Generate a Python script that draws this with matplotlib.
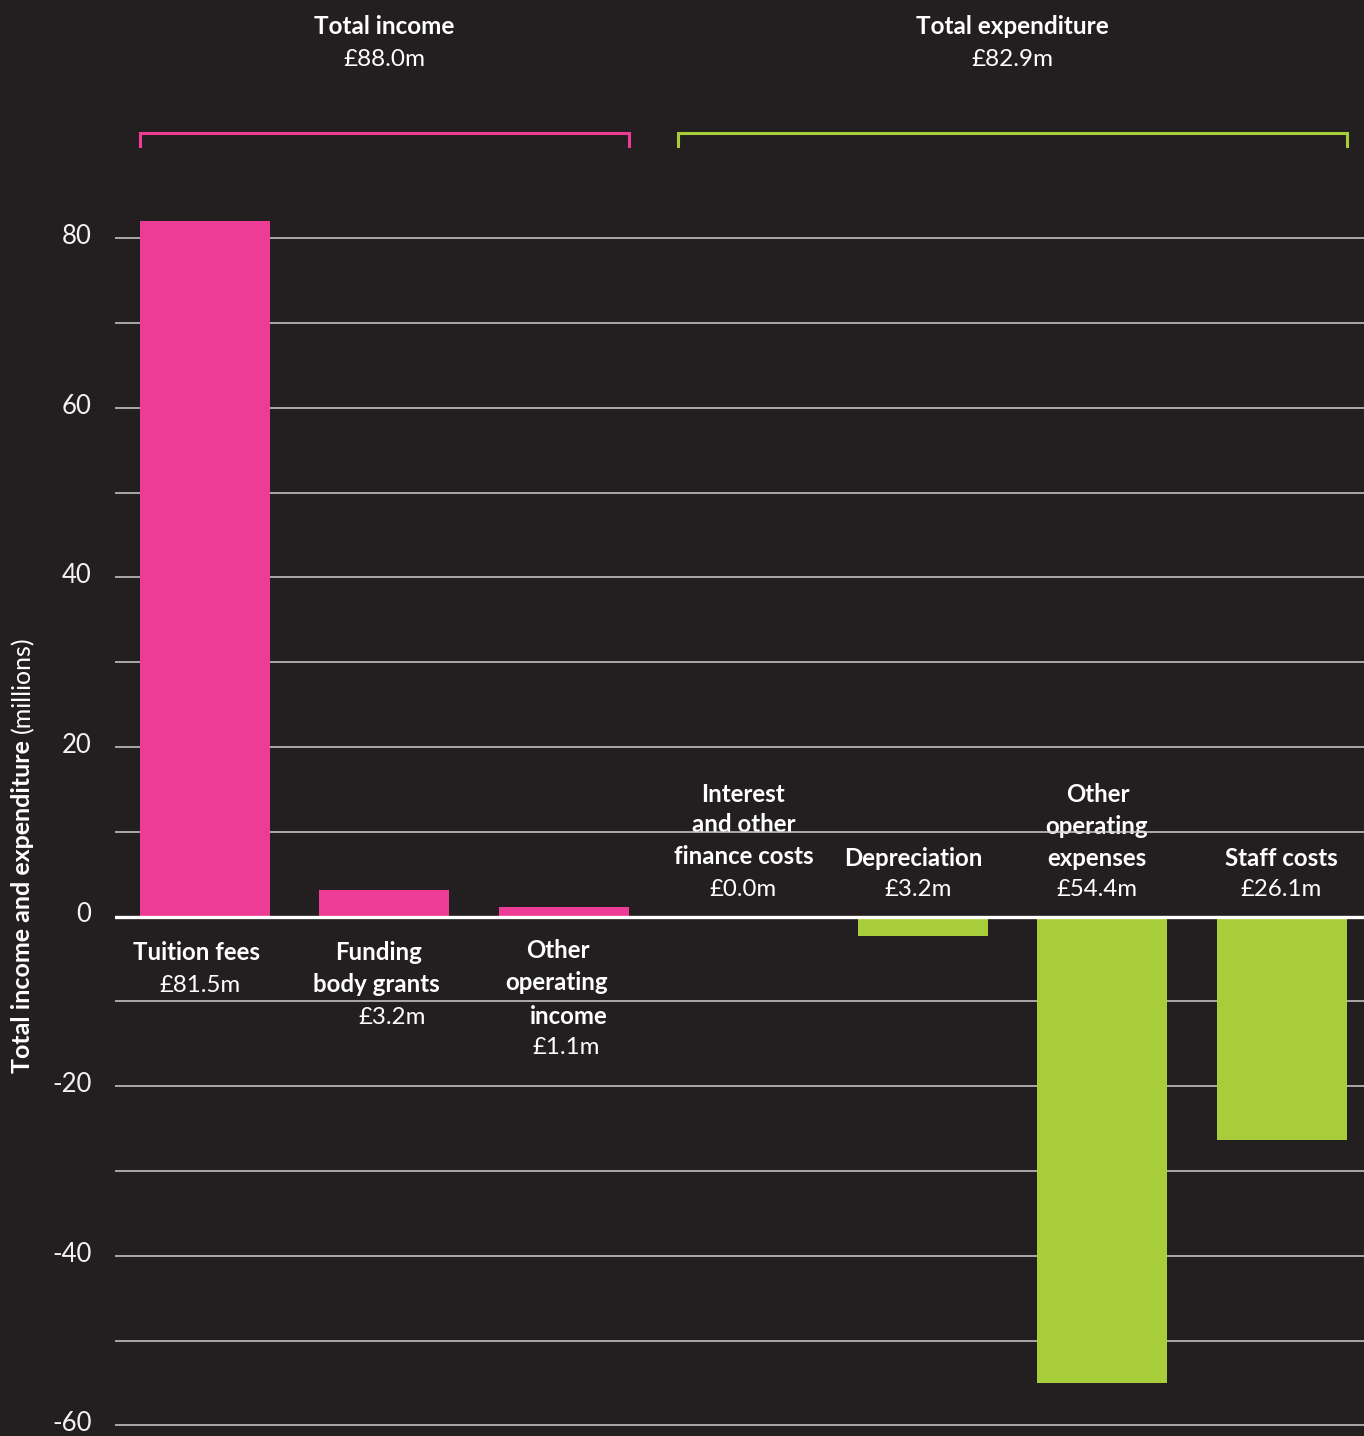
import matplotlib
matplotlib.use("Agg")
import matplotlib.pyplot as plt
from matplotlib.transforms import blended_transform_factory, offset_copy, ScaledTranslation

# ---------------- data ----------------
categories = [
    "Tuition fees",
    "Funding body grants",
    "Other operating income",
    "Interest and other finance costs",
    "Depreciation",
    "Other operating expenses",
    "Staff costs",
]
bar_values = [82.0, 3.1, 1.1, 0.0, -2.3, -55.0, -26.3]
amount_labels = ["£81.5m", "£3.2m", "£1.1m", "£0.0m", "£3.2m", "£54.4m", "£26.1m"]
group_of = [0, 0, 0, 1, 1, 1, 1]
group_titles = ["Total income", "Total expenditure"]
group_totals = ["£88.0m", "£82.9m"]
ytick_values = [-60, -40, -20, 0, 20, 40, 60, 80]
grid_values = [-60, -50, -40, -30, -20, -10, 10, 20, 30, 40, 50, 60, 70, 80]
ylabel_bold = "Total income and expenditure"
ylabel_regular = "(millions)"

# ---------------- style / layout ----------------
W, H = 1364, 1436
BG = "#231f20"
PINK = "#ec3c96"
GREEN = "#a8cd3a"
WHITE = "#ffffff"
GRID = "#cfcfcf"
group_colors = [PINK, GREEN]
FONT = ["Lato", "DejaVu Sans"]

# label lines per category: (text, bold, y pixel, dx pixel); None = amount label
label_lines = [
    [("Tuition fees", True, 953, -8), (None, False, 985, -5)],
    [("Funding", True, 953, -6), ("body grants", True, 985, -8), (None, False, 1018, 8)],
    [("Other", True, 950, -6), ("operating", True, 982, -7), ("income", True, 1017, 5), (None, False, 1048, 2)],
    [("Interest", True, 794, 0), ("and other", True, 825, 0), ("finance costs", True, 857, 0), (None, False, 889, 0)],
    [("Depreciation", True, 858, -10), (None, False, 889, -5)],
    [("Other", True, 794, -5), ("operating", True, 826, -6), ("expenses", True, 858, -6), (None, False, 889, -5)],
    [("Staff costs", True, 858, -1), (None, False, 889, -1)],
]

plt.rcParams["font.family"] = FONT
fig = plt.figure(figsize=(W / 100, H / 100), dpi=100, facecolor=BG)
ax_left = 115 / W
ax = fig.add_axes([ax_left, 0, 1 - ax_left, 1])
ax.set_facecolor(BG)

zero_px = 916.5
px_per_unit = 8.48
ax.set_ylim((zero_px - H) / px_per_unit, zero_px / px_per_unit)
ax.set_xlim(-0.5, 6.457)

x = list(range(len(categories)))
bw = 0.724
colors = [group_colors[g] for g in group_of]
ax.bar(x, bar_values, width=bw, color=colors, zorder=2)

for gv in grid_values:
    ax.axhline(gv, color=GRID, lw=1.1, zorder=1.5)
ax.axhline(0, color=WHITE, lw=2.4, zorder=2.5)

for s in ax.spines.values():
    s.set_visible(False)
ax.set_xticks([])
ax.set_yticks(ytick_values)
ax.set_yticklabels([str(v) for v in ytick_values], fontsize=18.5, color="#f2f2f2")
ax.tick_params(axis="y", length=0, pad=17)
lift = ScaledTranslation(0, 4 / 100, fig.dpi_scale_trans)
for lab in ax.get_yticklabels():
    lab.set_transform(lab.get_transform() + lift)

# pixel-y helper: x in data, y in figure fraction
tr = blended_transform_factory(ax.transData, fig.transFigure)

def ypx(p):
    return 1 - p / H

for i, lines in enumerate(label_lines):
    for text, bold, py, dx in lines:
        t = amount_labels[i] if text is None else text
        ax.text(i, ypx(py), t,
                transform=offset_copy(tr, fig=fig, x=dx, y=0, units="dots"),
                ha="center", va="center", fontsize=17.3,
                fontweight="bold" if bold else "normal", color=WHITE, zorder=1)

# group brackets and titles
for g in range(2):
    idx = [i for i in x if group_of[i] == g]
    x0 = min(idx) - bw / 2
    x1 = max(idx) + bw / 2
    top, bot = ypx(133), ypx(146)
    ax.plot([x0, x0, x1, x1], [bot, top, top, bot], transform=tr,
            color=group_colors[g], lw=2.2, clip_on=False, solid_joinstyle="miter")
    xm = (x0 + x1) / 2
    ax.text(xm, ypx(26), group_titles[g], transform=tr, ha="center", va="center",
            fontsize=17.5, fontweight="bold", color=WHITE)
    ax.text(xm, ypx(59), group_totals[g], transform=tr, ha="center", va="center",
            fontsize=17.5, color=WHITE)

# y-axis label: bold part + regular part
fig.canvas.draw()
t1 = fig.text(23 / W, ypx(1073), ylabel_bold, rotation=90, rotation_mode="anchor",
              ha="left", va="center", fontsize=18, fontweight="bold", color=WHITE)
fig.canvas.draw()
bb = t1.get_window_extent()
t2 = fig.text(23 / W, (bb.y1 + 7) / H, ylabel_regular, rotation=90, rotation_mode="anchor",
              ha="left", va="center", fontsize=18, color=WHITE)

fig.savefig("out.png", dpi=100, facecolor=BG)
